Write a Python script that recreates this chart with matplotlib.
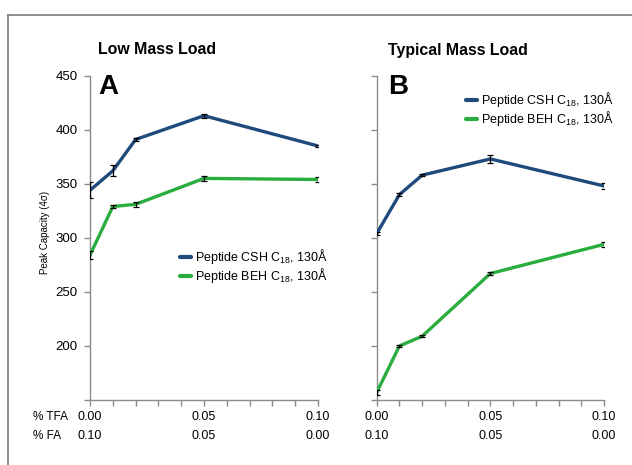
import numpy as np
import matplotlib
matplotlib.use('Agg')
import matplotlib.pyplot as plt
from matplotlib.lines import Line2D

plt.rcParams['font.family'] = ['Liberation Sans', 'DejaVu Sans']
plt.rcParams['mathtext.fontset'] = 'custom'
plt.rcParams['mathtext.rm'] = 'Liberation Sans'

# data (% TFA on x, % FA = 0.10 - TFA)
tfa = [0.00, 0.01, 0.02, 0.05, 0.10]
tick_tfa = ['0.00', '0.05', '0.10']
tick_fa = ['0.10', '0.05', '0.00']
tick_pos = [0.00, 0.05, 0.10]

low_csh = [344, 362, 391, 413, 385]
low_csh_err = [7.5, 5, 1.5, 2, 1]
low_beh = [284, 329, 331, 355, 354]
low_beh_err = [3.5, 1, 2.5, 2.5, 2]

typ_csh = [304, 340, 358, 373, 348]
typ_csh_err = [1.5, 1.5, 1, 4, 2.5]
typ_beh = [157, 200, 209, 267, 294]
typ_beh_err = [2, 1, 1, 1, 2.5]

lab_csh = 'Peptide CSH C$_{18}$, 130Å'
lab_beh = 'Peptide BEH C$_{18}$, 130Å'

c_csh = '#1f4a7c'
c_beh = '#2aad3f'
grey = '#8c8c8c'

W, H = 632, 465
fig = plt.figure(figsize=(W / 100, H / 100), dpi=100, facecolor='white')


def px(x0, y0, x1, y1):
    return [x0 / W, 1 - y1 / H, (x1 - x0) / W, (y1 - y0) / H]


axA = fig.add_axes(px(90, 75.7, 318, 400))
axB = fig.add_axes(px(376.7, 75.7, 604, 400))

for ax, csh, csh_e, beh, beh_e in [(axA, low_csh, low_csh_err, low_beh, low_beh_err),
                                  (axB, typ_csh, typ_csh_err, typ_beh, typ_beh_err)]:
    ax.plot(tfa, csh, color=c_csh, lw=2.4, label=lab_csh, solid_capstyle='round', zorder=3)
    ax.plot(tfa, beh, color=c_beh, lw=2.4, label=lab_beh, solid_capstyle='round', zorder=3)
    ax.errorbar(tfa, csh, yerr=csh_e, fmt='none', ecolor='black', elinewidth=0.9, capsize=2, capthick=0.9, zorder=4)
    ax.errorbar(tfa, beh, yerr=beh_e, fmt='none', ecolor='black', elinewidth=0.9, capsize=2, capthick=0.9, zorder=4)
    ax.set_xlim(0, 0.10)
    ax.set_ylim(150, 450)
    ax.set_yticks([150, 200, 250, 300, 350, 400, 450])
    ax.set_xticks(np.arange(0, 0.1001, 0.01))
    ax.set_xticklabels([])
    for s in ['top', 'right']:
        ax.spines[s].set_visible(False)
    for s in ['left', 'bottom']:
        ax.spines[s].set_color(grey)
        ax.spines[s].set_linewidth(1)
    ax.tick_params(axis='both', direction='out', length=4, width=1, color=grey)
    ax.tick_params(axis='y', labelsize=9.5, pad=5)
    ax.patch.set_alpha(0)
    # two-row x tick labels
    trans = ax.get_xaxis_transform()
    for p, t, f in zip(tick_pos, tick_tfa, tick_fa):
        ax.text(p, -17 / 324.3, t, transform=trans, ha='center', va='center', fontsize=9)
        ax.text(p, -36 / 324.3, f, transform=trans, ha='center', va='center', fontsize=9)

axA.set_yticklabels(['', '200', '250', '300', '350', '400', '450'])
axB.set_yticklabels([])

for ax, anchor in [(axA, (180 / W, 1 - 247 / H)), (axB, (466 / W, 1 - 90 / H))]:
    leg = ax.legend(loc='upper left', bbox_to_anchor=anchor, bbox_transform=fig.transFigure,
                    frameon=False, handlelength=0.9, handletextpad=0.3, fontsize=9, labelspacing=0.0,
                    borderpad=0, borderaxespad=0)
    for h in leg.get_lines():
        h.set_linewidth(3)

fig.text(157 / W, 1 - 50 / H, 'Low Mass Load', ha='center', va='center', fontsize=11.4, fontweight='bold')
fig.text(458 / W, 1 - 50 / H, 'Typical Mass Load', ha='center', va='center', fontsize=11.4, fontweight='bold')
fig.text(108 / W, 1 - 87 / H, 'A', ha='center', va='center', fontsize=20, fontweight='bold')
fig.text(398 / W, 1 - 87 / H, 'B', ha='center', va='center', fontsize=20, fontweight='bold')
fig.text(45 / W, 1 - 232 / H, 'Peak Capacity (4σ)', ha='center', va='center', rotation=90, fontsize=7)
fig.text(33 / W, 1 - 417 / H, '% TFA', ha='left', va='center', fontsize=8.5)
fig.text(33 / W, 1 - 436 / H, '% FA', ha='left', va='center', fontsize=8.5)

# outer frame (left and top edges)
fig.add_artist(Line2D([8 / W, 8 / W], [0, 1 - 15 / H], color='#7a7a7a', lw=1.2))
fig.add_artist(Line2D([8 / W, 1], [1 - 15 / H, 1 - 15 / H], color='#7a7a7a', lw=1.2))

fig.savefig('out.png', dpi=100, facecolor='white')
